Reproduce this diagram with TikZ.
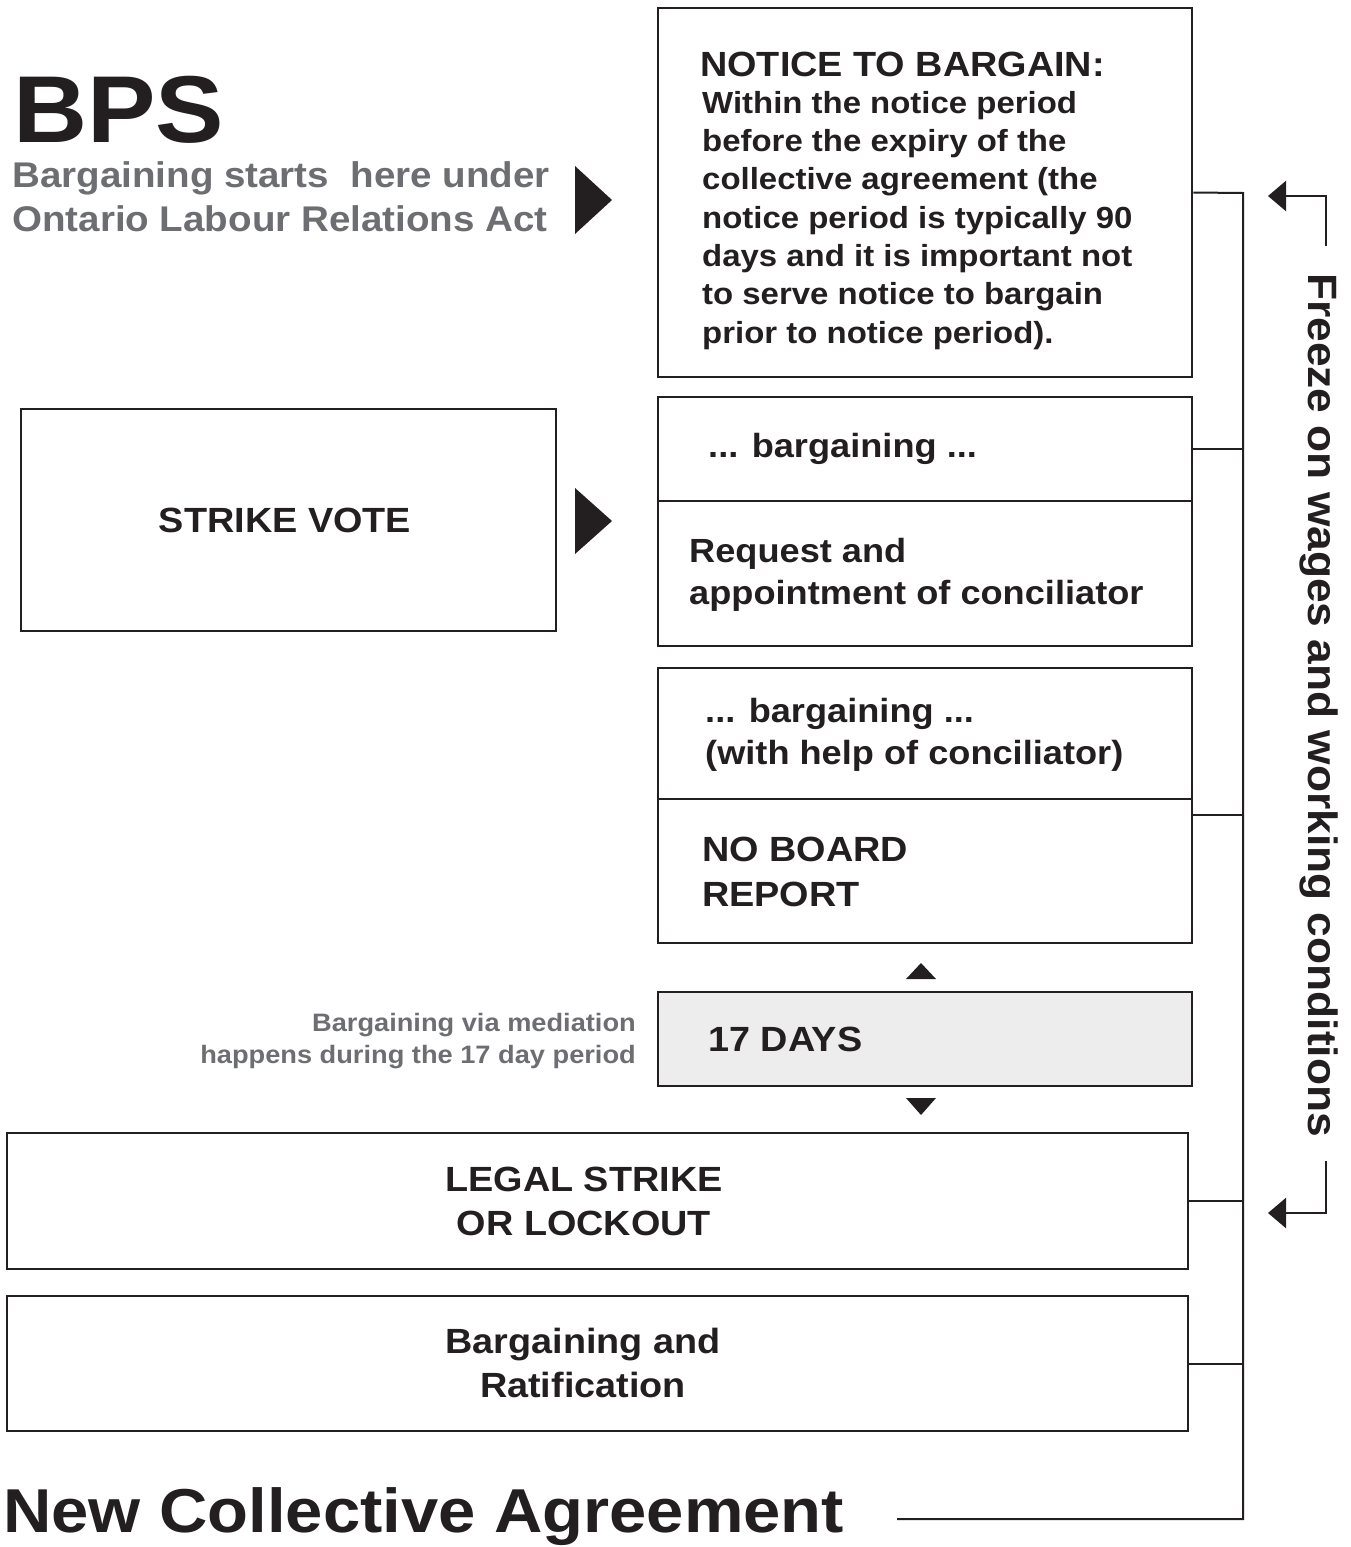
\documentclass[tikz,border=0pt]{standalone}
\usepackage{fontspec}
\setmainfont{Liberation Sans}[FakeStretch=1.08]
\usetikzlibrary{arrows.meta}
\definecolor{ink}{HTML}{231F20}
\definecolor{greytxt}{HTML}{6D6E71}
\definecolor{dayfill}{HTML}{EDEDED}
\newcommand{\fsz}[2]{\fontsize{#1}{#2}\selectfont\bfseries}

\begin{document}
\begin{tikzpicture}[x=1pt,y=-1pt,
  box/.style={draw=ink,line width=2.5pt,inner sep=0pt,minimum width=534pt},
  widebox/.style={box,minimum width=1181pt},
  txt/.style={text=ink,inner sep=0pt,align=left,anchor=north west},
  link/.style={draw=ink,line width=2pt},
  freezearrow/.style={draw=ink,line width=2.5pt,-{Triangle[length=18pt,width=30pt]}}]
\useasboundingbox (0,0) rectangle (1351,1547);

% boxes
\node[box,minimum height=369pt] (notice) at (925,192.5) {};
\node[box,minimum height=104pt] (barg1) at (925,449) {};
\node[box,minimum height=145pt] (request) at (925,573.5) {};
\node[box,minimum height=131pt] (barg2) at (925,733.5) {};
\node[box,minimum height=144pt] (noboard) at (925,871) {};
\node[box,minimum height=94pt,fill=dayfill] (days) at (925,1039) {};
\node[box,minimum width=535pt,minimum height=222pt] (vote) at (288.5,520) {};
\node[widebox,minimum height=136pt] (legal) at (597.5,1201) {};
\node[widebox,minimum height=135pt] (ratify) at (597.5,1363.5) {};

% texts
\node[txt,anchor=base west,font=\fsz{95}{100}] (bps) at (13,142) {BPS};
\node[txt,text=greytxt,font=\fsz{35.7}{44}] (start) at (12,156.2)
  {\strut Bargaining starts\hspace{0.3em} here under\\Ontario Labour Relations Act};
\node[txt,anchor=base west,font=\fsz{35}{38}] (noticehead) at (700,76) {NOTICE TO BARGAIN:};
\node[txt,font=\fsz{30.5}{38.3}] (noticebody) at (702,86.2)
  {\strut Within the notice period\\before the expiry of the\\collective agreement (the\\notice period is typically 90\\days and it is important not\\to serve notice to bargain\\prior to notice period).};
\node[txt,anchor=base west,font=\fsz{33.5}{42}] (barg1txt) at (708,457) {... bargaining ...};
\node[txt,font=\fsz{33.5}{42}] (requesttxt) at (689,532.6)
  {\strut Request and\\appointment of conciliator};
\node[txt,font=\fsz{33.5}{42}] (barg2txt) at (705,692.6)
  {\strut ... bargaining ...\\(with help of conciliator)};
\node[txt,font=\fsz{35}{45}] (noboardtxt) at (702,830) {\strut NO BOARD\\REPORT};
\node[txt,anchor=base west,font=\fsz{35}{40}] (daystxt) at (708,1051) {17 DAYS};
\node[txt,anchor=base,font=\fsz{35}{40}] (votetxt) at (285,532) {STRIKE VOTE};
\node[txt,align=center,anchor=north,font=\fsz{35}{44}] (legaltxt) at (584,1160)
  {\strut LEGAL STRIKE\\OR LOCKOUT};
\node[txt,align=center,anchor=north,font=\fsz{35}{44}] (ratifytxt) at (583,1322)
  {\strut Bargaining and\\Ratification};
\node[txt,text=greytxt,align=right,anchor=north east,font=\fsz{25.2}{32}] (mediation) at (636,1008.6)
  {\strut Bargaining via mediation\\happens during the 17 day period};
\node[txt,anchor=base west,font=\fsz{62}{70}] (nca) at (3,1532) {New Collective Agreement};
\node[txt,anchor=base,rotate=-90,font=\fsz{41}{45}] (freeze) at (1308,705)
  {Freeze on wages and working conditions};

% pointers
\fill[ink] (575,166) -- (612,200) -- (575,234) -- cycle;
\fill[ink] (575,488) -- (612,521) -- (575,554) -- cycle;
\fill[ink] (906,979) -- (921,963) -- (936,979) -- cycle;
\fill[ink] (906,1098) -- (921,1115) -- (936,1098) -- cycle;

% freeze line
\coordinate (spine) at (1243,193);
\coordinate (spineend) at (1243,1519);
\coordinate (ncaend) at (897,1519);
\coordinate (midjoin) at (1192,815);
\draw[link] (notice.east) -- (spine) -- (spineend) -- (ncaend);
\draw[link] (barg1.east) -- (barg1.east -| spine);
\draw[link] (midjoin) -- (midjoin -| spine);
\draw[link] (legal.east) -- (legal.east -| spine);
\draw[link] (ratify.east) -- (ratify.east -| spine);

\coordinate (fa) at (1326,246);
\coordinate (fb) at (1268,196);
\coordinate (fc) at (1326,1161);
\coordinate (fd) at (1268,1213);
\draw[freezearrow] (fa) |- (fb);
\draw[freezearrow] (fc) |- (fd);

\end{tikzpicture}
\end{document}
